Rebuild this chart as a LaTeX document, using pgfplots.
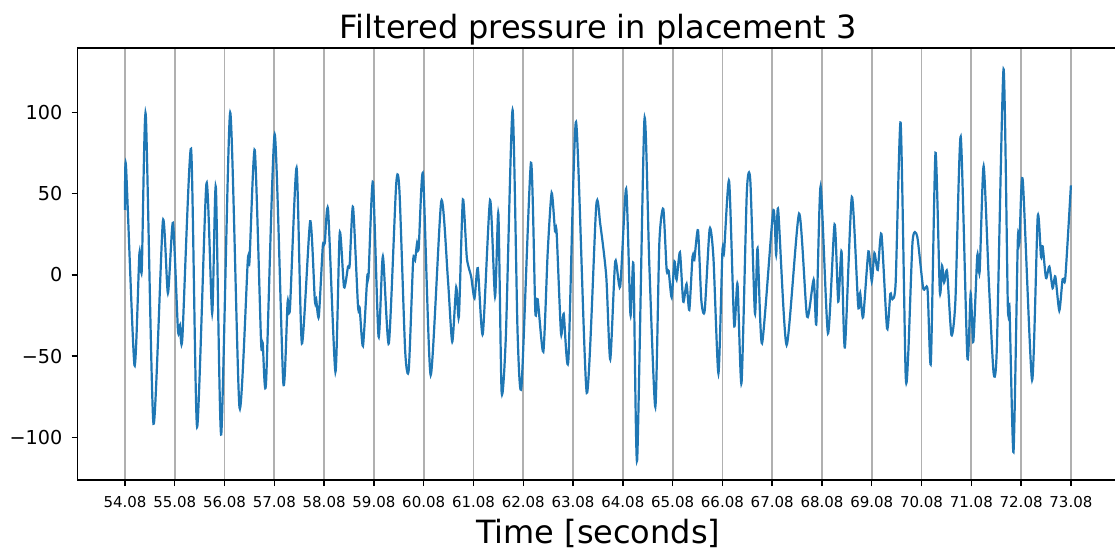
\documentclass[border=0pt]{standalone}
\usepackage{fontspec}
\setmainfont{DejaVu Sans}
\usepackage{pgfplots}
\pgfplotsset{compat=1.18}
\definecolor{mplblue}{HTML}{1F77B4}
\definecolor{gridgray}{HTML}{B0B0B0}

\begin{document}
\begin{tikzpicture}
\begin{axis}[
  scale only axis, width=520.5pt, height=216pt,
  xmin=53.13, xmax=74.04, ymin=-126.2, ymax=139.5,
  xtick={54.08,55.08,56.08,57.08,58.08,59.08,60.08,61.08,62.08,63.08,64.08,65.08,66.08,67.08,68.08,69.08,70.08,71.08,72.08,73.08},
  xticklabels={54.08,55.08,56.08,57.08,58.08,59.08,60.08,61.08,62.08,63.08,64.08,65.08,66.08,67.08,68.08,69.08,70.08,71.08,72.08,73.08},
  ytick={-100,-50,0,50,100},
  yticklabels={−100,−50,0,50,100},
  tick pos=left, tick align=outside, major tick length=3pt,
  major tick style={black, line width=0.7pt},
  xmajorgrids, grid style={gridgray, line width=0.9pt},
  axis line style={line width=0.7pt},
  title={Filtered pressure in placement 3},
  title style={font=\fontsize{16}{19}\selectfont, at={(0.5,1)}, anchor=base, inner sep=0pt, yshift=-1.5pt},
  xlabel={Time [seconds]},
  xlabel style={font=\fontsize{16}{19}\selectfont, at={(axis description cs:0.5,0)}, anchor=base, inner sep=0pt, yshift=-31.5pt},
  xticklabel style={font=\fontsize{7.5}{9}\selectfont, anchor=base, inner sep=0pt, yshift=-10.5pt},
  yticklabel style={font=\fontsize{9.6}{11}\selectfont, anchor=east, inner sep=0pt, xshift=-4.5pt},
]
\addplot[mplblue, line width=1.1pt, smooth, tension=0.4] coordinates {
(54.08,40) (54.10,67) (54.27,-55.6) (54.37,13.4) (54.417,3) (54.497,98.8)
(54.652,-91.6) (54.841,33) (54.942,-11.3) (55.043,32) (55.144,-34) (55.184,-31)
(55.232,-39) (55.407,77.5) (55.528,-93.6) (55.716,56.2) (55.831,-23.7) (55.905,54)
(56.013,-98.2) (56.193,99.8) (56.38,-81.7) (56.547,9) (56.58,8) (56.687,76.7)
(56.813,-41) (56.847,-42) (56.913,-66.5) (57.087,86.4) (57.26,-66.5) (57.347,-16.5)
(57.393,-21) (57.527,65.8) (57.633,-42.2) (57.80,33) (57.893,-15.5) (57.92,-15)
(57.973,-25.7) (58.053,17.5) (58.093,19.5) (58.16,39.7) (58.307,-59.7) (58.393,25.7)
(58.48,-7.6) (58.56,5.1) (58.593,6.2) (58.66,41.8) (58.76,-19.1) (58.793,-20)
(58.86,-43.8) (58.947,-1) (58.973,0) (59.06,57) (59.173,-38) (59.26,11.3)
(59.38,-42.2) (59.527,55.5) (59.593,51.4) (59.707,-46.3) (59.78,-58.3) (59.867,8.2)
(59.907,9) (59.947,19.5) (59.98,16.5) (60.067,61.7) (60.22,-61.7) (60.433,45.3)
(60.567,-3) (60.653,-41.2) (60.733,-7.6) (60.787,-25.7) (60.867,46.3) (60.947,10.3)
(61.033,-1) (61.10,-14.4) (61.167,4.1) (61.267,-36.4) (61.413,45.9) (61.513,-13.4)
(61.58,37.6) (61.645,-72) (61.73,-38) (61.865,101.4) (61.966,-36) (62.046,-67.9)
(62.234,68.9) (62.322,-22.7) (62.369,-15) (62.483,-47.3) (62.57,13.4) (62.65,50.4)
(62.718,26.7) (62.75,26) (62.838,-36) (62.892,-24) (62.986,-52.5) (63.14,94)
(63.355,-72.6) (63.545,42.2) (63.627,31) (63.747,-1) (63.827,-52) (63.927,8.2)
(64.027,-7.2) (64.147,52.9) (64.233,-24.7) (64.293,6.2) (64.367,-114.2) (64.513,95.3)
(64.613,5.1) (64.733,-81.3) (64.813,19.5) (64.893,40.5) (64.96,3) (65.0,2.5)
(65.06,-13.8) (65.117,8.2) (65.16,-3) (65.227,13.8) (65.293,-16.5) (65.36,-5.6)
(65.415,-21.6) (65.48,11.3) (65.515,9) (65.59,27.4) (65.656,-15.5) (65.724,-22)
(65.824,28.2) (65.9,10.3) (66.0,-60.7) (66.08,14.4) (66.113,13.8) (66.215,57.6)
(66.316,-30.9) (66.383,-5.6) (66.464,-66.5) (66.57,50.4) (66.64,58.2) (66.733,-23.7)
(66.786,16.4) (66.876,-42.2) (67.1,39.1) (67.16,12.3) (67.2,40.1) (67.37,-43.2)
(67.62,37.6) (67.78,-25.7) (67.913,-3) (67.967,-29.8) (68.053,54.5) (68.2,-36)
(68.333,31) (68.407,-16.5) (68.473,14.4) (68.54,-44.7) (68.68,47.9) (68.807,-19.1)
(68.847,-11.3) (68.907,-26.1) (69.013,14.4) (69.08,-4.1) (69.133,13.4) (69.2,3)
(69.275,25) (69.387,-33) (69.453,-11.7) (69.493,-15) (69.56,-4.7) (69.66,93.6)
(69.76,-60.7) (69.813,-48.4) (69.9,20.6) (69.993,23.6) (70.113,-8.2) (70.2,-8.9)
(70.267,-54.1) (70.36,75) (70.447,-10.3) (70.493,5.5) (70.533,-4.7) (70.593,2)
(70.68,-37) (70.76,-15.9) (70.867,85) (71.0,-50.5) (71.067,-11.3) (71.12,-41.2)
(71.2,12) (71.247,2) (71.327,66.9) (71.433,-5.1) (71.527,-60.3) (71.593,-44.3)
(71.727,126.5) (71.813,-19.1) (71.847,-20.5) (71.927,-109) (72.013,20.6) (72.047,20)
(72.113,58.2) (72.3,-64.8) (72.413,35.6) (72.48,10.9) (72.513,17.5) (72.58,-2)
(72.647,5.1) (72.713,-8.2) (72.767,-1) (72.847,-22) (72.913,-2.7) (72.967,-2)
(73.08,55)
};
\end{axis}
\pgfresetboundingbox
\useasboundingbox ([xshift=-38.85pt,yshift=-36pt]current axis.south west) rectangle ++(557.5pt,276pt);
\end{tikzpicture}
\end{document}
